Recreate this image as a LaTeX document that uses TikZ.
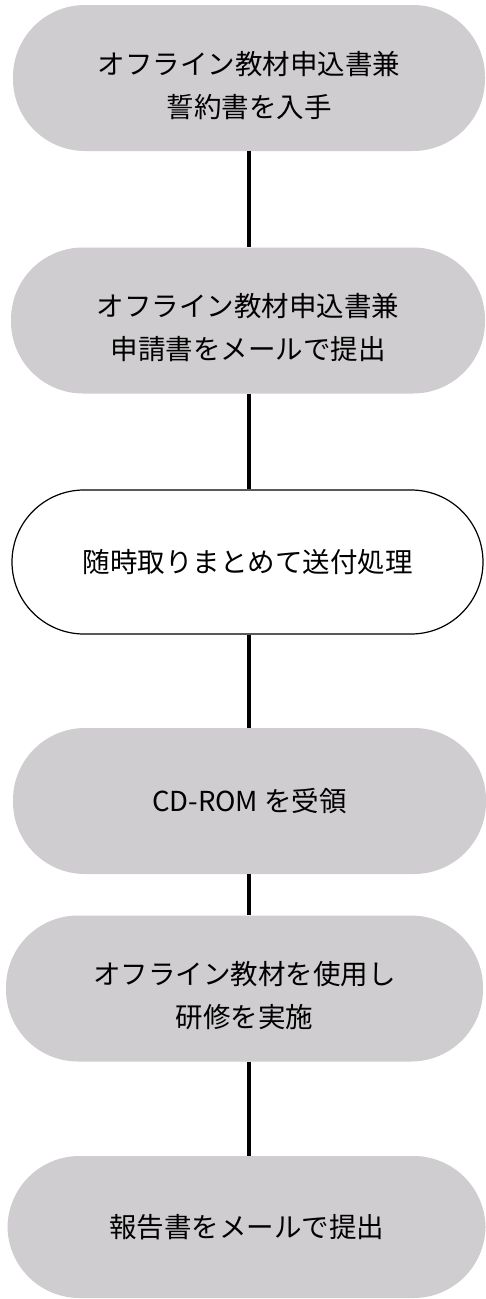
\documentclass[tikz,border=0pt]{standalone}
\usepackage{fontspec}
\setmainfont{Noto Sans CJK JP}
\usepackage{tikz}
\definecolor{boxgray}{RGB}{207,205,207}

\begin{document}
\begin{tikzpicture}[x=1pt,y=-1pt,
  font=\fontsize{27.5}{43}\selectfont,
  stepbox/.style={rectangle,rounded corners=72pt,fill=boxgray,align=center,
                  inner sep=0pt,minimum height=146pt},
  twoline/.style={text height=81pt},
  openbox/.style={stepbox,fill=white,draw=black,line width=1.2pt},
  link/.style={line width=3.5pt}]
\useasboundingbox (0,0) rectangle (486,1299);
% steps
\node[stepbox,twoline,minimum width=472pt] (get)    at (249,78)    {オフライン教材申込書兼\\誓約書を入手};
\node[stepbox,twoline,minimum width=474pt] (apply)  at (248,320.5) {オフライン教材申込書兼\\申請書をメールで提出};
\node[openbox,minimum width=471pt,minimum height=144pt] (send) at (247.5,562) {随時取りまとめて送付処理};
\node[stepbox,minimum width=473pt] (cd)     at (249.5,801) {CD-ROM を受領};
\node[stepbox,twoline,minimum width=477pt] (train)  at (244.5,988.5) {オフライン教材を使用し\\研修を実施};
\node[stepbox,minimum width=478pt,minimum height=142pt] (report) at (246.5,1227) {報告書をメールで提出};
% links
\draw[link] (get.south -| 249,0) -- (apply.north -| 249,0);
\draw[link] (apply.south -| 249,0) -- (send.north -| 249,0);
\draw[link] (send.south -| 249,0) -- (cd.north -| 249,0);
\draw[link] (cd.south -| 249,0) -- (train.north -| 249,0);
\draw[link] (train.south -| 249,0) -- (report.north -| 249,0);
\end{tikzpicture}
\end{document}
